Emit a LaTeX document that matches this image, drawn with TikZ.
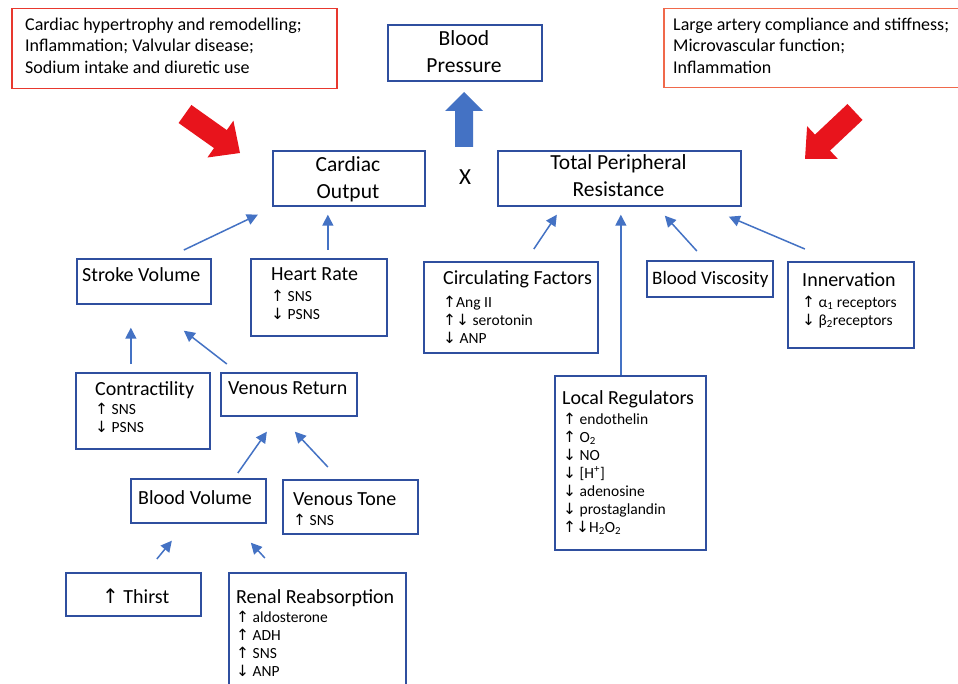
\documentclass[tikz,border=0pt]{standalone}
\usepackage{fontspec}
\setmainfont{Carlito}
\newfontfamily\arwfont[Scale=1.0]{DejaVu Sans}
\usetikzlibrary{arrows.meta}
\definecolor{boxblue}{HTML}{2F4F9F}
\definecolor{arrblue}{HTML}{4472C4}
\definecolor{bigred}{HTML}{E8141C}
\definecolor{redA}{HTML}{E8382E}
\definecolor{redB}{HTML}{F0694B}
\newcommand{\upa}{{\arwfont ↑}}
\newcommand{\dna}{{\arwfont ↓}}
\begin{document}
\begin{tikzpicture}[x=1pt,y=-1pt,
  box/.style={draw=boxblue, line width=1.7pt, inner sep=0pt, anchor=north west},
  redbox/.style={line width=1.5pt, inner sep=0pt, anchor=north west},
  ttl/.style={anchor=base west, inner sep=0pt, font=\fontsize{20}{24}\selectfont},
  lst/.style={anchor=north west, inner sep=0pt, align=left, font=\fontsize{15.5}{18}\selectfont},
  big/.style={anchor=center, inner sep=0pt, align=center, font=\fontsize{21.5}{27}\selectfont},
  toptxt/.style={anchor=north west, inner sep=0pt, align=left, font=\fontsize{18}{21.5}\selectfont},
  arr/.style={-{Triangle[length=11pt,width=11pt]}, draw=arrblue, line width=1.5pt}]
\useasboundingbox[fill=white] (0,0) rectangle (958,684);

% red boxes
\node[redbox, draw=redA, minimum width=325pt, minimum height=80pt] (redL) at (11,8) {};
\node[redbox, draw=redB, minimum width=320pt, minimum height=79pt] (redR) at (663,8) {};
\node[toptxt] (redLt) at (25,15) {\strut Cardiac hypertrophy and remodelling;\\Inflammation; Valvular disease;\\Sodium intake and diuretic use};
\node[toptxt] (redRt) at (673,15) {\strut Large artery compliance and stiffness;\\Microvascular function;\\Inflammation};

% boxes
\node[box, minimum width=154pt, minimum height=56pt] (bp) at (387,24) {};
\node[box, minimum width=152pt, minimum height=55pt] (co) at (272,150) {};
\node[box, minimum width=243pt, minimum height=55pt] (tpr) at (497,150) {};
\node[box, minimum width=134pt, minimum height=45pt] (sv) at (76,258) {};
\node[box, minimum width=136pt, minimum height=77pt] (hr) at (250,258) {};
\node[box, minimum width=174pt, minimum height=91pt] (cf) at (423,261) {};
\node[box, minimum width=126pt, minimum height=36pt] (vi) at (646,260) {};
\node[box, minimum width=126pt, minimum height=86pt] (inn) at (787,261) {};
\node[box, minimum width=151pt, minimum height=174pt] (lr) at (554,375) {};
\node[box, minimum width=134pt, minimum height=76pt] (ct) at (75,372) {};
\node[box, minimum width=136pt, minimum height=43pt] (vr) at (220,372) {};
\node[box, minimum width=135pt, minimum height=44pt] (bv) at (130,478) {};
\node[box, minimum width=135pt, minimum height=54pt] (vt) at (282,479) {};
\node[box, minimum width=135pt, minimum height=43pt] (th) at (65,572) {};
\node[box, minimum width=177pt, minimum height=130pt] (rr) at (228,572) {};

% big texts
\node[big] (bpt) at (464,52) {Blood\\Pressure};
\node[big] (cot) at (348,179) {Cardiac\\Output};
\node[big] (tprt) at (618.5,176) {Total Peripheral\\Resistance};
\node[big, font=\fontsize{23}{27}\selectfont] (xt) at (465,177) {X};

% titles
\node[ttl] (svt) at (82,282) {Stroke Volume};
\node[ttl] (hrt) at (271,281) {Heart Rate};
\node[ttl] (cft) at (443,285) {Circulating Factors};
\node[ttl, font=\fontsize{19}{23}\selectfont] (vit) at (652,285) {Blood Viscosity};
\node[ttl] (innt) at (802,287) {Innervation};
\node[ttl] (lrt) at (562,404) {Local Regulators};
\node[ttl] (ctt) at (95,395) {Contractility};
\node[ttl] (vrt) at (228,394) {Venous Return};
\node[ttl] (bvt) at (138,504) {Blood Volume};
\node[ttl] (vtt) at (293,505) {Venous Tone};
\node[ttl] (tht) at (102,603) {\upa{} Thirst};
\node[ttl] (rrt) at (236,603) {Renal Reabsorption};

% lists
\node[lst] (hrl) at (271,288.4) {\strut\upa{} SNS\\\dna{} PSNS};
\node[lst] (cfl) at (443,294.4) {\strut\upa Ang II\\\upa\dna{} serotonin\\\dna{} ANP};
\node[lst] (innl) at (802,294.4) {\strut\upa{} α\textsubscript{1} receptors\\\dna{} β\textsubscript{2}receptors};
\node[lst] (lrl) at (563,411.4) {\strut\upa{} endothelin\\\upa{} O\textsubscript{2}\\\dna{} NO\\\dna{} [H\textsuperscript{+}]\\\dna{} adenosine\\\dna{} prostaglandin\\\upa\dna H\textsubscript{2}O\textsubscript{2}};
\node[lst] (ctl) at (95,401.4) {\strut\upa{} SNS\\\dna{} PSNS};
\node[lst] (vtl) at (293,512.4) {\strut\upa{} SNS};
\node[lst] (rrl) at (236,609.4) {\strut\upa{} aldosterone\\\upa{} ADH\\\upa{} SNS\\\dna{} ANP};

% big arrows
\fill[arrblue] (464,92) -- (483,111) -- (473,111) -- (473,147) -- (455,147) -- (455,111) -- (445,111) -- cycle;
\fill[bigred] (191.4,105) -- (226.8,130.1) -- (233.4,120.7) -- (240,153) -- (207.4,157.5) -- (214,148.1) -- (178.6,123) -- cycle;
\fill[bigred] (847.5,104) -- (815,134.6) -- (807.1,126.2) -- (805,159) -- (837.9,159) -- (830,150.6) -- (862.5,120) -- cycle;

% connectors
\draw[arr] ([shift={(40,-8)}]sv.north) -- ([shift={(-91,8)}]co.south);
\draw[arr] ([shift={(9,-8)}]hr.north) -- ([shift={(-21,8)}]co.south);
\draw[arr] ([shift={(-12,-8)}]ct.north) -- ([shift={(-13,23)}]sv.south);
\draw[arr] ([shift={(-62,-8)}]vr.north) -- ([shift={(40,26)}]sv.south);
\draw[arr] ([shift={(39.5,-5)}]bv.north) -- ([shift={(-22,15)}]vr.south);
\draw[arr] ([shift={(-22.5,-12)}]vt.north) -- ([shift={(6,15)}]vr.south);
\draw[arr] ([shift={(23.5,-13)}]th.north) -- ([shift={(-26.5,17)}]bv.south);
\draw[arr] ([shift={(-52.5,-14)}]rr.north) -- ([shift={(52.5,19)}]bv.south);
\draw[arr] ([shift={(23,-12)}]cf.north) -- ([shift={(-62.5,8)}]tpr.south);
\draw[arr] ([shift={(-9.5,0)}]lr.north) -- ([shift={(1.5,8)}]tpr.south);
\draw[arr] ([shift={(-13,-9)}]vi.north) -- ([shift={(45.5,9)}]tpr.south);
\draw[arr] ([shift={(-46,-12)}]inn.north) -- ([shift={(109.5,10)}]tpr.south);
\end{tikzpicture}
\end{document}
